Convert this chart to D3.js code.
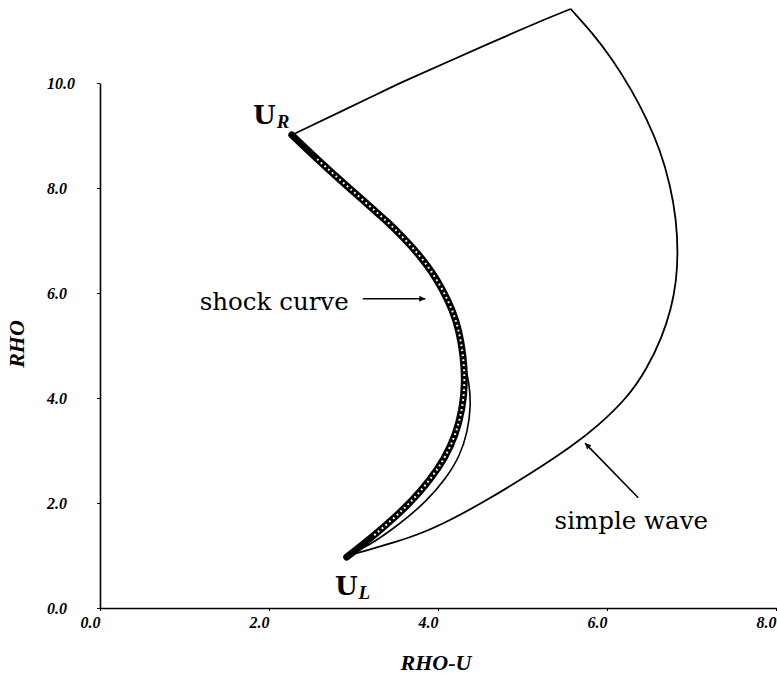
<!DOCTYPE html>
<html>
<head>
<meta charset="utf-8">
<script src="https://cdn.jsdelivr.net/npm/d3@7"></script>
<style>
body { margin: 0; background: #fff; }
svg { display: block; }
</style>
</head>
<body>
<div id="chart"></div>
<script>
// values (RHO-U, RHO)
var xTicks = [0, 2, 4, 6, 8];
var yTicks = [0, 2, 4, 6, 8, 10];

var simpleWave = [
  [2.90, 0.99], [2.96, 1.01], [3.16, 1.10], [3.47, 1.24], [3.82, 1.43],
  [4.14, 1.67], [4.50, 1.98], [5.09, 2.55], [5.60, 3.10], [5.88, 3.45],
  [6.24, 4.00], [6.47, 4.55], [6.65, 5.15], [6.76, 5.70], [6.82, 6.22],
  [6.84, 6.76], [6.82, 7.40], [6.75, 8.05], [6.63, 8.72], [6.47, 9.32],
  [6.29, 9.87], [6.07, 10.44], [5.83, 10.95], [5.57, 11.41]
];
var topEdge = [
  [5.57, 11.41], [5.12, 11.12], [4.11, 10.40], [3.55, 10.0], [3.31, 9.81], [2.27, 9.01]
];
var shockCurve = [
  [2.27, 9.01], [2.27, 9.01], [2.57, 8.55], [2.76, 8.27], [2.95, 8.00], [3.16, 7.70],
  [3.40, 7.36], [3.60, 7.04], [3.78, 6.72], [3.93, 6.40],
  [4.06, 6.05], [4.17, 5.68], [4.25, 5.28], [4.30, 4.80], [4.32, 4.30],
  [4.29, 3.80], [4.21, 3.30], [4.08, 2.85], [3.91, 2.45],
  [3.70, 2.05], [3.47, 1.70], [3.22, 1.35], [2.92, 0.97], [2.92, 0.97]
];
var nearCurve = [
  [2.90, 0.99], [2.90, 0.99], [3.16, 1.16], [3.55, 1.60], [3.87, 2.04],
  [4.10, 2.48], [4.26, 2.90], [4.35, 3.35], [4.39, 3.85],
  [4.37, 4.30], [4.30, 4.75], [4.25, 5.28], [4.17, 5.68]
];

// annotations, in data units
var labels = [
  {text: 'shock curve', x: 1.18, y: 5.68},
  {text: 'simple wave', x: 5.38, y: 1.50}
];
var points = [
  {main: 'U', sub: 'R', x: 1.81, y: 9.22},
  {main: 'U', sub: 'L', x: 2.78, y: 0.25}
];
var arrows = [
  {from: [3.11, 5.89], to: [3.85, 5.89]},
  {from: [6.37, 2.10], to: [5.74, 3.14]}
];

var width = 777, height = 675;
var svg = d3.select('#chart').append('svg')
  .attr('width', width)
  .attr('height', height);

var x = d3.scaleLinear().domain([0, 8]).range([100, 776]);
var y = d3.scaleLinear().domain([0, 10]).range([608, 83]);

svg.append('defs').append('marker')
  .attr('id', 'head')
  .attr('viewBox', '0 0 10 10')
  .attr('refX', 10).attr('refY', 5)
  .attr('markerWidth', 11).attr('markerHeight', 6)
  .attr('markerUnits', 'userSpaceOnUse')
  .attr('orient', 'auto')
  .append('path').attr('d', 'M0,0L10,5L0,10Z').attr('fill', '#000');

var tickFont = 'bold italic 16px "Liberation Serif", serif';

// axes
var xAxis = svg.append('g')
  .attr('transform', 'translate(0,' + y(0) + ')')
  .call(d3.axisBottom(x).tickValues(xTicks).tickSize(3).tickSizeOuter(0)
    .tickFormat(d3.format('.1f')));
xAxis.select('.domain').attr('stroke-width', 1.6);
xAxis.selectAll('text')
  .attr('text-anchor', 'end').attr('x', 0).attr('y', 20).attr('dy', 0)
  .style('font', tickFont);

var yAxis = svg.append('g')
  .attr('transform', 'translate(' + x(0) + ',0)')
  .call(d3.axisLeft(y).tickValues(yTicks).tickSize(3).tickSizeOuter(0)
    .tickFormat(d3.format('.1f')));
yAxis.select('.domain').attr('stroke-width', 1.6);
yAxis.selectAll('text')
  .attr('text-anchor', 'start').attr('x', -53).attr('dy', '0.35em')
  .style('font', tickFont);

svg.append('text')
  .attr('transform', 'translate(24,344) rotate(-90)')
  .attr('text-anchor', 'middle')
  .style('font', 'bold italic 22px "Liberation Serif", serif')
  .text('RHO');
svg.append('text')
  .attr('x', 436).attr('y', 670)
  .attr('text-anchor', 'middle')
  .style('font', 'bold italic 22px "Liberation Serif", serif')
  .text('RHO-U');

// curves
var smooth = d3.line().x(function(d){ return x(d[0]); }).y(function(d){ return y(d[1]); })
  .curve(d3.curveBasis);
var straight = d3.line().x(function(d){ return x(d[0]); }).y(function(d){ return y(d[1]); })
  .curve(d3.curveMonotoneX);

svg.append('path').datum(simpleWave).attr('d', smooth)
  .attr('fill', 'none').attr('stroke', '#000').attr('stroke-width', 1.8);
svg.append('path').datum(topEdge).attr('d', smooth)
  .attr('fill', 'none').attr('stroke', '#000').attr('stroke-width', 1.8);
svg.append('path').datum(nearCurve).attr('d', smooth)
  .attr('fill', 'none').attr('stroke', '#000').attr('stroke-width', 1.6);

// shock curve: band of small open circles
svg.append('path').datum(shockCurve).attr('d', smooth)
  .attr('fill', 'none').attr('stroke', '#000').attr('stroke-width', 7)
  .attr('stroke-linejoin', 'round').attr('stroke-linecap', 'round');
svg.append('path').datum(shockCurve.slice(2, -2)).attr('d', smooth)
  .attr('fill', 'none').attr('stroke', '#fff').attr('stroke-width', 2)
  .attr('stroke-dasharray', '1.8 3.2');

// arrows
svg.selectAll('.arrow').data(arrows).enter().append('line')
  .attr('class', 'arrow')
  .attr('x1', function(d){ return x(d.from[0]); })
  .attr('y1', function(d){ return y(d.from[1]); })
  .attr('x2', function(d){ return x(d.to[0]); })
  .attr('y2', function(d){ return y(d.to[1]); })
  .attr('stroke', '#000').attr('stroke-width', 1.6)
  .attr('marker-end', 'url(#head)');

// text labels
svg.selectAll('.lab').data(labels).enter().append('text')
  .attr('class', 'lab')
  .attr('x', function(d){ return x(d.x); })
  .attr('y', function(d){ return y(d.y); })
  .style('font', '24.5px "DejaVu Serif", serif')
  .text(function(d){ return d.text; });

var pt = svg.selectAll('.pt').data(points).enter().append('text')
  .attr('class', 'pt')
  .attr('x', function(d){ return x(d.x); })
  .attr('y', function(d){ return y(d.y); });
pt.append('tspan')
  .style('font', 'bold 26px "DejaVu Serif", serif')
  .text(function(d){ return d.main; });
pt.append('tspan')
  .attr('dy', 4).attr('dx', 1)
  .style('font', 'bold italic 19px "Liberation Serif", serif')
  .text(function(d){ return d.sub; });
</script>
</body>
</html>
